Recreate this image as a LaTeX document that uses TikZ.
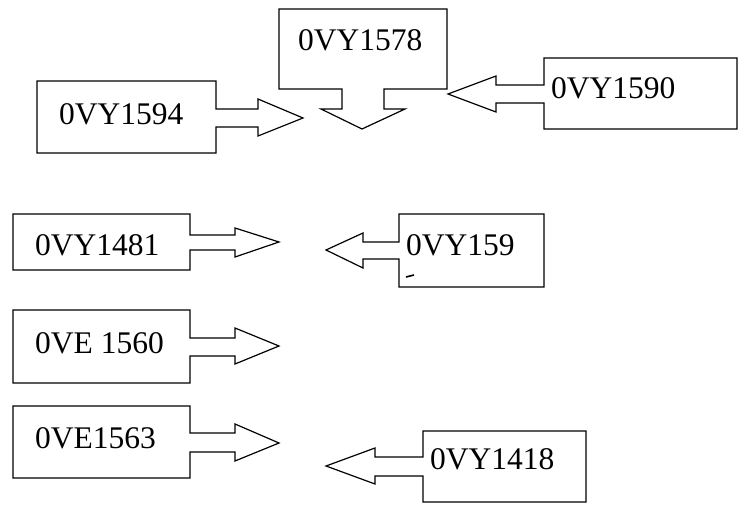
\documentclass[tikz,border=0pt]{standalone}
\usepackage{fontspec}
\setmainfont{Liberation Serif}
\begin{document}
\begin{tikzpicture}[x=1pt,y=-1pt,
  callout/.style={draw=black,line width=1.2pt,line join=miter,fill=white},
  lbl/.style={anchor=base west,inner sep=0pt,font=\fontsize{31.5}{36}\selectfont}]
\useasboundingbox (0,0) rectangle (740,506);
% 0VY1594 (right arrow)
\draw[callout] (37,81) -- (216,81) -- (216,109) -- (258,109) -- (258,99) -- (303,118) -- (258,136) -- (258,127) -- (216,127) -- (216,153) -- (37,153) -- cycle;
\node[lbl] (t1594) at (59,124) {0VY1594};
% 0VY1578 (down arrow)
\draw[callout] (279,9) -- (447,9) -- (447,89) -- (384,89) -- (384,109) -- (405,109) -- (362,129) -- (321,109) -- (342,109) -- (342,89) -- (279,89) -- cycle;
\node[lbl] (t1578) at (298,50) {0VY1578};
% 0VY1590 (left arrow)
\draw[callout] (544,58) -- (737,58) -- (737,129) -- (544,129) -- (544,103) -- (496,103) -- (496,112) -- (448,94) -- (496,76) -- (496,85) -- (544,85) -- cycle;
\node[lbl] (t1590) at (551,98) {0VY1590};
% 0VY1481
\draw[callout] (13,214) -- (190,214) -- (190,235) -- (235,235) -- (235,228) -- (279,242) -- (235,257) -- (235,250) -- (190,250) -- (190,270) -- (13,270) -- cycle;
\node[lbl] (t1481) at (35,255) {0VY1481};
% 0VY159
\draw[callout] (399,214) -- (544,214) -- (544,287) -- (399,287) -- (399,259) -- (363,259) -- (363,268) -- (326,250) -- (363,233) -- (363,242) -- (399,242) -- cycle;
\node[lbl] (t159) at (406,255) {0VY159};
\draw[line width=1.6pt] (406,277) -- (414,275);
% 0VE 1560
\draw[callout] (13,310) -- (190,310) -- (190,338) -- (235,338) -- (235,328) -- (279,346) -- (235,364) -- (235,356) -- (190,356) -- (190,383) -- (13,383) -- cycle;
\node[lbl] (t1560) at (35,353) {0VE 1560};
% 0VE1563
\draw[callout] (13,406) -- (190,406) -- (190,433) -- (235,433) -- (235,424) -- (279,443) -- (235,461) -- (235,452) -- (190,452) -- (190,478) -- (13,478) -- cycle;
\node[lbl] (t1563) at (35,448) {0VE1563};
% 0VY1418
\draw[callout] (423,431) -- (586,431) -- (586,502) -- (423,502) -- (423,476) -- (375,476) -- (375,484) -- (326,466) -- (375,448) -- (375,457) -- (423,457) -- cycle;
\node[lbl] (t1418) at (430,469) {0VY1418};
\end{tikzpicture}
\end{document}
